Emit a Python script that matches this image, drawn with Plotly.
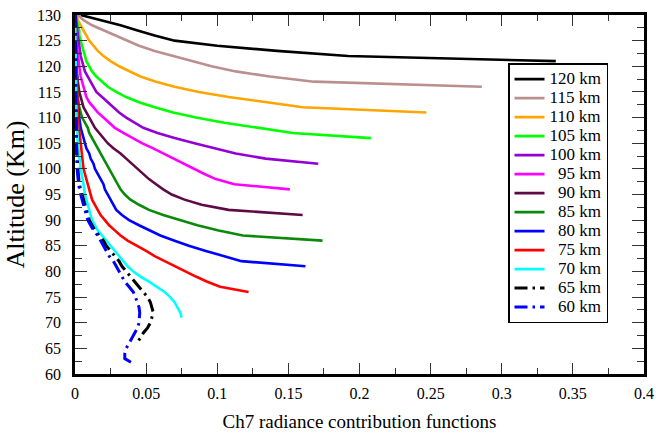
import plotly.graph_objects as go

# Altitude grids (km) and Ch7 radiance contribution function values for each tangent height
alt_120 = [130, 129, 128, 127, 126, 125, 124, 123, 122, 121]
cf_120 = [0.004, 0.019, 0.032, 0.044, 0.056, 0.070, 0.100, 0.142, 0.192, 0.338]

alt_115 = list(range(130, 115, -1))
cf_115 = [0.002, 0.006, 0.012, 0.020, 0.028, 0.036, 0.045, 0.056, 0.069, 0.083,
          0.096, 0.113, 0.137, 0.168, 0.286]

alt_110 = list(range(130, 110, -1))
cf_110 = [0.001, 0.002, 0.004, 0.006, 0.008, 0.010, 0.013, 0.016, 0.020, 0.025,
          0.031, 0.038, 0.046, 0.057, 0.070, 0.087, 0.108, 0.135, 0.160, 0.247]

alt_105 = list(range(130, 105, -1))
cf_105 = [0.001, 0.001, 0.002, 0.003, 0.003, 0.004, 0.005, 0.006, 0.007, 0.008,
          0.010, 0.012, 0.015, 0.019, 0.023, 0.029, 0.036, 0.045, 0.056, 0.069,
          0.085, 0.105, 0.128, 0.153, 0.208]

alt_100 = [130, 128, 126, 124, 122, 120, 119, 118, 117, 116, 115, 114, 113, 112,
           111, 110, 109, 108, 107, 106, 105, 104, 103, 102, 101]
cf_100 = [0.0005, 0.001, 0.002, 0.003, 0.004, 0.006, 0.007, 0.009, 0.011, 0.013,
          0.015, 0.019, 0.023, 0.027, 0.031, 0.036, 0.042, 0.048, 0.058, 0.070,
          0.084, 0.098, 0.113, 0.134, 0.171]

alt_95 = [130, 125, 120, 118, 116, 115, 114, 113, 112, 111, 110, 109, 108, 107,
          106, 105, 104, 103, 102, 101, 100, 99, 98, 97, 96]
cf_95 = [0.0003, 0.001, 0.003, 0.004, 0.006, 0.007, 0.008, 0.010, 0.013, 0.016,
         0.020, 0.024, 0.028, 0.034, 0.040, 0.047, 0.055, 0.062, 0.069, 0.076,
         0.083, 0.091, 0.099, 0.112, 0.151]

alt_90 = [130, 125, 120, 117, 115, 113, 112, 111, 110, 109, 108, 107, 106, 105,
          104, 103, 102, 101, 100, 99, 98, 97, 96, 95, 94, 93, 92, 91]
cf_90 = [0.0002, 0.0005, 0.001, 0.002, 0.003, 0.005, 0.006, 0.008, 0.010, 0.012,
         0.014, 0.017, 0.020, 0.023, 0.027, 0.032, 0.036, 0.040, 0.044, 0.048,
         0.052, 0.057, 0.062, 0.068, 0.077, 0.089, 0.108, 0.160]

alt_85 = [130, 120, 115, 112, 110, 109, 108, 107, 106, 105, 104, 103, 102, 101,
          100, 99, 98, 97, 96, 95, 94, 93, 92, 91, 90, 89, 88, 87, 86]
cf_85 = [0.0001, 0.0005, 0.0015, 0.003, 0.005, 0.007, 0.009, 0.010, 0.012, 0.014,
         0.016, 0.018, 0.020, 0.022, 0.024, 0.026, 0.028, 0.030, 0.032, 0.035,
         0.039, 0.045, 0.052, 0.062, 0.074, 0.086, 0.101, 0.118, 0.174]

alt_80 = [130, 115, 110, 108, 106, 105, 104, 103, 102, 101, 100, 99, 98, 97, 96,
          95, 94, 93, 92, 91, 90, 89, 88, 87, 86, 85, 84, 83, 82, 81]
cf_80 = [0.0002, 0.001, 0.003, 0.004, 0.006, 0.007, 0.008, 0.010, 0.011, 0.013,
         0.014, 0.016, 0.018, 0.020, 0.021, 0.023, 0.025, 0.027, 0.029, 0.033,
         0.038, 0.045, 0.052, 0.060, 0.070, 0.080, 0.092, 0.104, 0.117, 0.162]

alt_75 = [130, 110, 105, 100, 98, 96, 95, 94, 93, 92, 91, 90, 89, 88, 87, 86,
          85, 84, 83, 82, 81, 80, 79, 78, 77, 76]
cf_75 = [0.0001, 0.002, 0.004, 0.006, 0.008, 0.010, 0.011, 0.012, 0.014, 0.016,
         0.018, 0.021, 0.024, 0.028, 0.032, 0.037, 0.044, 0.050, 0.056, 0.063,
         0.070, 0.077, 0.085, 0.093, 0.102, 0.122]

alt_70 = [130, 110, 105, 100, 97, 95, 93, 91, 90, 89, 88, 87, 86, 85, 84, 83, 82,
          81, 80, 79, 78, 77, 76, 75, 74, 73, 72, 71]
cf_70 = [0.0001, 0.001, 0.002, 0.004, 0.006, 0.007, 0.009, 0.011, 0.012, 0.014,
         0.016, 0.019, 0.022, 0.025, 0.028, 0.031, 0.034, 0.037, 0.041, 0.046,
         0.052, 0.058, 0.063, 0.067, 0.070, 0.072, 0.074, 0.075]

alt_65 = [130, 110, 105, 100, 97, 95, 93, 91, 90, 89, 88, 87, 86, 85, 84, 83, 82,
          81, 80, 79, 78, 77, 76, 75, 74, 73, 72, 71, 70, 69, 68, 67, 66]
cf_65 = [0.0001, 0.0005, 0.001, 0.002, 0.003, 0.005, 0.007, 0.009, 0.010, 0.012,
         0.014, 0.017, 0.020, 0.022, 0.025, 0.028, 0.031, 0.033, 0.036, 0.039,
         0.042, 0.045, 0.048, 0.051, 0.053, 0.054, 0.055, 0.054, 0.053, 0.051,
         0.048, 0.046, 0.043]

alt_60 = [130, 110, 105, 100, 97, 95, 93, 91, 90, 89, 88, 87, 86, 85, 84, 83, 82,
          81, 80, 79, 78, 77, 76, 75, 74, 73, 72, 71, 70, 69, 68, 67, 66, 65, 64,
          63, 62]
cf_60 = [0.0001, 0.0004, 0.0008, 0.0015, 0.0025, 0.004, 0.006, 0.008, 0.009, 0.011,
         0.013, 0.016, 0.018, 0.020, 0.022, 0.024, 0.027, 0.029, 0.031, 0.033,
         0.035, 0.038, 0.041, 0.0425, 0.044, 0.045, 0.0455, 0.0455, 0.045, 0.044,
         0.042, 0.040, 0.0375, 0.036, 0.035, 0.035, 0.041]

labels = ["120 km", "115 km", "110 km", "105 km", "100 km", "95 km", "90 km",
          "85 km", "80 km", "75 km", "70 km", "65 km", "60 km"]
altitudes = [alt_120, alt_115, alt_110, alt_105, alt_100, alt_95, alt_90, alt_85,
             alt_80, alt_75, alt_70, alt_65, alt_60]
values = [cf_120, cf_115, cf_110, cf_105, cf_100, cf_95, cf_90, cf_85, cf_80,
          cf_75, cf_70, cf_65, cf_60]

colors = ["#000000", "#BC8F8F", "#FFA500", "#00FF00", "#9400D3", "#FF00FF",
          "#5E0A45", "#0A8A0A", "#0000FF", "#FF0000", "#00FFFF", "#000000", "#0000FF"]
dashes = ["solid"] * 11 + ["13px,5px,2.5px,5px"] * 2

SERIF = "Liberation Serif"


def legend_name(text, width=6):
    # right-align the labels: pad short ones with no-break spaces (two per digit)
    pad = "\u00a0\u00a0" * (width - len(text))
    return '<span style="font-size:17px">' + pad + text + "</span>"


fig = go.Figure()
for lab, alt, val, col, dsh in zip(labels, altitudes, values, colors, dashes):
    fig.add_trace(go.Scatter(
        x=val, y=alt, mode="lines", name=legend_name(lab),
        line=dict(color=col, width=2.6 if dsh == "solid" else 3, dash=dsh),
    ))

axis_common = dict(
    showline=True, linecolor="black", linewidth=2.5, mirror="allticks",
    ticks="inside", tickcolor="#333333", tickwidth=1.2,
    showgrid=False, zeroline=False, automargin=False,
    tickfont=dict(family=SERIF, size=16, color="black"),
)

fig.update_xaxes(
    range=[0, 0.4], dtick=0.05, tick0=0, ticklen=11,
    minor=dict(dtick=0.025, ticks="inside", ticklen=6, tickcolor="#333333", tickwidth=1.2),
    title=dict(text="Ch7 radiance contribution functions",
               font=dict(family=SERIF, size=19, color="black"), standoff=14),
    ticklabelstandoff=3,
    **axis_common,
)
fig.update_yaxes(
    range=[60, 130], dtick=5, tick0=60, ticklen=12,
    minor=dict(dtick=2.5, ticks="inside", ticklen=7, tickcolor="#333333", tickwidth=1.2),
    title=dict(text="Altitude (Km)",
               font=dict(family=SERIF, size=26, color="black"), standoff=5),
    ticklabelstandoff=8,
    **axis_common,
)

fig.update_layout(
    width=656, height=435,
    margin=dict(l=75, r=12, t=15, b=61),
    paper_bgcolor="white", plot_bgcolor="white",
    font=dict(family=SERIF),
    legend=dict(
        x=0.761, y=0.866, xanchor="left", yanchor="top",
        bgcolor="white", bordercolor="black", borderwidth=1.5,
        font=dict(family=SERIF, size=12, color="black"),
        itemwidth=30,
    ),
    showlegend=True,
)

fig.write_html("out.html")
